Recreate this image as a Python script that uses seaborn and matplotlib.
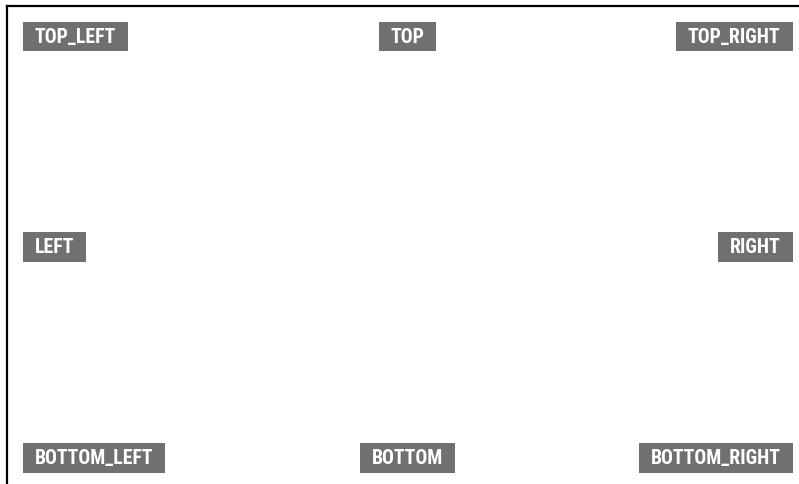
import matplotlib
matplotlib.use('Agg')
import matplotlib.pyplot as plt
from matplotlib.patches import Rectangle
import seaborn as sns

# 위치 이름 라벨 (배치는 이름에서 결정)
labels = ['TOP_LEFT', 'TOP', 'TOP_RIGHT',
          'LEFT', 'RIGHT',
          'BOTTOM_LEFT', 'BOTTOM', 'BOTTOM_RIGHT']

sns.set_theme(style='white')
plt.rcParams['font.family'] = ['Roboto Condensed', 'DejaVu Sans']

W, H = 799, 485
fig = plt.figure(figsize=(W / 100, H / 100), dpi=100)
# 프레임: 왼쪽 위는 (7,7)px, 오른쪽/아래는 그림 밖으로 잘림
fl, ft, fw, fh = 7, 7, 801, 482
ax = fig.add_axes([fl / W, (H - ft - fh) / H, fw / W, fh / H])
ax.set(xticks=[], yticks=[])
for s in ax.spines.values():
    s.set_color('black')
    s.set_linewidth(1.6)

texts = []
for lab in labels:
    t = fig.text(0, 0, lab, color='white', fontsize=14.2, fontweight='bold',
                 ha='center', va='center', zorder=5)
    texts.append(t)
fig.canvas.draw()
r = fig.canvas.get_renderer()

padx, bh, margin = 12, 29.5, 15.5
for lab, t in zip(labels, texts):
    w = t.get_window_extent(r).width
    bw = w + 2 * padx
    # 가로 위치 (이미지 좌표, 왼쪽 기준)
    if lab.endswith('LEFT'):
        cx = fl + margin + bw / 2
    elif lab.endswith('RIGHT'):
        cx = fl + fw - margin - bw / 2
    else:
        cx = fl + fw / 2
    # 세로 위치 (이미지 좌표, 위쪽 기준)
    if lab.startswith('TOP'):
        cy = ft + margin + bh / 2
    elif lab.startswith('BOTTOM'):
        cy = ft + fh - margin - bh / 2
    else:
        cy = ft + fh / 2
    t.set_position((cx / W, (H - cy) / H))
    fig.patches.append(Rectangle(((cx - bw / 2) / W, (H - cy - bh / 2) / H),
                                 bw / W, bh / H, transform=fig.transFigure,
                                 facecolor='#707070', edgecolor='none', zorder=4))

fig.savefig('out.png', dpi=100)
